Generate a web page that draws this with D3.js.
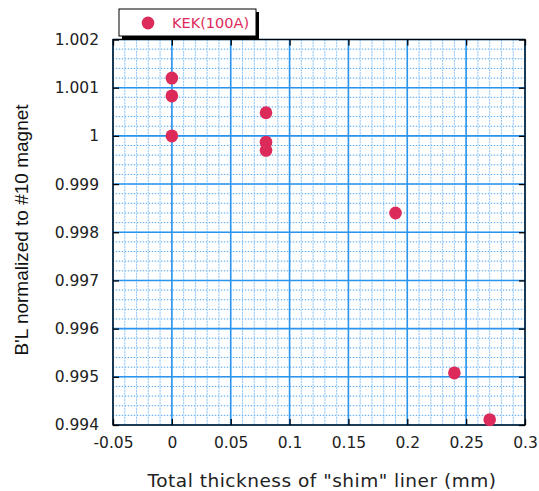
<!DOCTYPE html>
<html>
<head>
<meta charset="utf-8">
<script src="https://cdn.jsdelivr.net/npm/d3@7"></script>
<style>
  body { margin: 0; background: #fff; }
  svg { display: block; }
</style>
</head>
<body>
<div id="chart"></div>
<script>
// data
const thickness = [0, 0, 0, 0.08, 0.08, 0.08, 0.19, 0.24, 0.27];
const normBL = [1.0012, 1.00083, 1.0000, 1.00048, 0.99987, 0.99970, 0.99840, 0.99508, 0.99411];
const xTicks = [-0.05, 0, 0.05, 0.1, 0.15, 0.2, 0.25, 0.3];
const yTicks = [0.994, 0.995, 0.996, 0.997, 0.998, 0.999, 1, 1.001, 1.002];
const seriesName = "KEK(100A)";

const W = 539, H = 491;
const margin = { top: 39.5, right: 14, bottom: 66, left: 113 };
const width = W - margin.left - margin.right;
const height = H - margin.top - margin.bottom;

const svg = d3.select("#chart").append("svg")
  .attr("width", W).attr("height", H);

const chart = svg.append("g")
  .attr("transform", `translate(${margin.left},${margin.top})`);

const x = d3.scaleLinear().domain([-0.05, 0.3]).range([0, width]);
const y = d3.scaleLinear().domain([0.994, 1.002]).range([height, 0]);

// minor grid
const xMinor = d3.range(-0.05, 0.3001, 0.01).map(v => +v.toFixed(3));
const yMinor = d3.range(0.994, 1.00201, 0.0002).map(v => +v.toFixed(5));

const grid = chart.append("g");
xMinor.forEach(v => {
  grid.append("line")
    .attr("x1", x(v)).attr("x2", x(v)).attr("y1", 0).attr("y2", height)
    .attr("stroke", "#d9ecfc").attr("stroke-width", 1);
  grid.append("line")
    .attr("x1", x(v)).attr("x2", x(v)).attr("y1", 0).attr("y2", height)
    .attr("stroke", "#5aabf2").attr("stroke-width", 1)
    .attr("stroke-dasharray", "1,2");
});
yMinor.forEach(v => {
  grid.append("line")
    .attr("x1", 0).attr("x2", width).attr("y1", y(v)).attr("y2", y(v))
    .attr("stroke", "#d9ecfc").attr("stroke-width", 1);
  grid.append("line")
    .attr("x1", 0).attr("x2", width).attr("y1", y(v)).attr("y2", y(v))
    .attr("stroke", "#5aabf2").attr("stroke-width", 1)
    .attr("stroke-dasharray", "1,2");
});

// major grid
xTicks.forEach(v => {
  grid.append("line")
    .attr("x1", x(v)).attr("x2", x(v)).attr("y1", 0).attr("y2", height)
    .attr("stroke", "#2b95ee").attr("stroke-width", 1.6);
});
yTicks.forEach(v => {
  grid.append("line")
    .attr("x1", 0).attr("x2", width).attr("y1", y(v)).attr("y2", y(v))
    .attr("stroke", "#2b95ee").attr("stroke-width", 1.6);
});

// axes with inward ticks on all four sides
const tickFont = "'DejaVu Sans', Verdana, sans-serif";
const fmtX = d => d === 0 ? "0" : String(d);
const fmtY = d => String(+d.toFixed(3));

const axB = chart.append("g").attr("transform", `translate(0,${height})`)
  .call(d3.axisBottom(x).tickValues(xTicks).tickFormat(fmtX).tickSize(-6).tickPadding(12));
const axT = chart.append("g")
  .call(d3.axisTop(x).tickValues(xTicks).tickFormat("").tickSize(-6));
const axL = chart.append("g")
  .call(d3.axisLeft(y).tickValues(yTicks).tickFormat(fmtY).tickSize(-6).tickPadding(14));
const axR = chart.append("g").attr("transform", `translate(${width},0)`)
  .call(d3.axisRight(y).tickValues(yTicks).tickFormat("").tickSize(-6));

[axB, axT, axL, axR].forEach(a => {
  a.select(".domain").remove();
  a.selectAll(".tick line").attr("stroke", "#000").attr("stroke-width", 1.3);
  a.selectAll("text")
    .attr("font-family", tickFont)
    .attr("font-size", "15.5px")
    .attr("fill", "#222");
});

chart.append("rect")
  .attr("width", width).attr("height", height)
  .attr("fill", "none").attr("stroke", "#000").attr("stroke-width", 1.3);

// points
chart.selectAll("ellipse.pt")
  .data(thickness.map((t, i) => ({ t, v: normBL[i] })))
  .enter().append("ellipse")
  .attr("class", "pt")
  .attr("cx", d => x(d.t))
  .attr("cy", d => y(d.v))
  .attr("rx", 6.3).attr("ry", 6.5)
  .attr("fill", "#dc2a5a");

// axis titles
svg.append("text")
  .attr("x", 322).attr("y", 487)
  .attr("text-anchor", "middle")
  .attr("font-family", tickFont)
  .attr("font-size", "18.5px")
  .attr("letter-spacing", "0.5px")
  .attr("fill", "#222")
  .text('Total thickness of "shim" liner (mm)');

svg.append("text")
  .attr("transform", "translate(28,230) rotate(-90)")
  .attr("text-anchor", "middle")
  .attr("font-family", "'Liberation Sans', Arial, sans-serif")
  .attr("font-size", "19px")
  .attr("fill", "#111")
  .text("B'L normalized to #10 magnet");

// legend with drop shadow
const lg = svg.append("g").attr("transform", "translate(119,9)");
lg.append("rect").attr("x", 3).attr("y", 3).attr("width", 137).attr("height", 27).attr("fill", "#000");
lg.append("rect").attr("x", 0).attr("y", 0).attr("width", 137).attr("height", 27)
  .attr("fill", "#fff").attr("stroke", "#000").attr("stroke-width", 1);
lg.append("ellipse").attr("cx", 29).attr("cy", 14).attr("rx", 6.3).attr("ry", 6.5).attr("fill", "#dc2a5a");
lg.append("text")
  .attr("x", 53).attr("y", 19)
  .attr("font-family", tickFont)
  .attr("font-size", "14.5px")
  .attr("fill", "#dc2a5a")
  .text(seriesName);
</script>
</body>
</html>
